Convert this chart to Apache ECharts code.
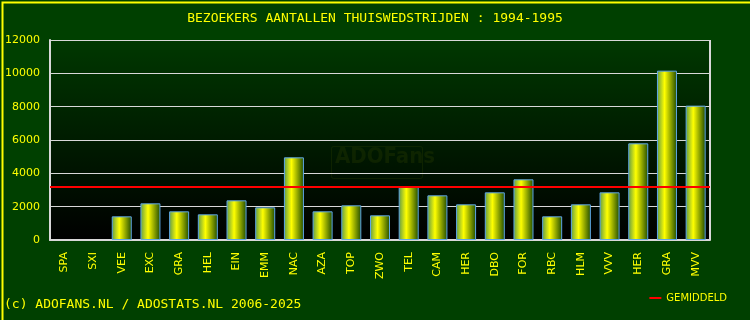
<!DOCTYPE html>
<html><head><meta charset="utf-8">
<script src="https://cdn.jsdelivr.net/npm/echarts@6/dist/echarts.min.js"></script>
<style>html,body{margin:0;padding:0;background:#004000;}#c{width:750px;height:320px;}</style>
</head><body><div id="c"></div>
<script>
const categories = ['SPA','SXI','VEE','EXC','GRA','HEL','EIN','EMM','NAC','AZA','TOP','ZWO','TEL','CAM','HER','DBO','FOR','RBC','HLM','VVV','HER','GRA','MVV'];
const visitors = [null,null,1420,2200,1720,1540,2380,1960,4960,1720,2080,1480,3220,2680,2140,2860,3640,1420,2140,2860,5800,10160,8060];
const average = 3200;
const yTicks = [0,2000,4000,6000,8000,10000,12000];

const chart = echarts.init(document.getElementById('c'));
const barGrad = new echarts.graphic.LinearGradient(0,0,1,0,[
  {offset:0,color:'#5f9a48'},{offset:0.38,color:'#ffff00'},{offset:1,color:'#1e4a00'}]);
chart.setOption({
  backgroundColor:'#004000',
  animation:false,
  title:{text:'BEZOEKERS AANTALLEN THUISWEDSTRIJDEN : 1994-1995',left:'center',top:7,
    textStyle:{color:'#ffff00',fontFamily:'DejaVu Sans Mono',fontWeight:'normal',fontSize:13}},
  legend:{data:['GEMIDDELD'],right:18,top:288,itemWidth:12,itemHeight:2,icon:'rect',
    textStyle:{color:'#ffff00',fontFamily:'DejaVu Sans',fontSize:10}},
  grid:{left:50,right:40,top:40,bottom:80,show:true,borderWidth:0,
    backgroundColor:new echarts.graphic.LinearGradient(0,0,0,1,[{offset:0,color:'#003800'},{offset:1,color:'#000000'}])},
  xAxis:{type:'category',data:categories,
    axisLine:{lineStyle:{color:'#d8d8d8',width:2}},axisTick:{show:false},
    axisLabel:{rotate:90,color:'#ffff00',fontFamily:'DejaVu Sans',fontSize:11,margin:12}},
  yAxis:{type:'value',min:yTicks[0],max:yTicks[yTicks.length-1],interval:2000,
    axisLine:{show:true,lineStyle:{color:'#d8d8d8',width:2}},axisTick:{show:false},
    splitLine:{lineStyle:{color:'#d8d8d8',width:1}},
    axisLabel:{color:'#ffff00',fontFamily:'DejaVu Sans',fontSize:11,margin:10,formatter:v=>String(v)}},
  graphic:[
    {type:'rect',left:0,top:0,shape:{width:749,height:319},style:{fill:'none',stroke:'#ffff00',lineWidth:2}},
    {type:'line',shape:{x1:710,y1:40,x2:710,y2:240},style:{stroke:'#d8d8d8',lineWidth:2},z:5},
    {type:'rect',left:329,top:144,shape:{width:91,height:32,r:2},style:{fill:'none',stroke:'rgba(40,60,0,0.35)',lineWidth:1},z:0},
    {type:'text',left:335,top:146,style:{text:'ADOFans',fill:'rgba(40,60,0,0.35)',font:'bold 22px "DejaVu Sans Condensed"'},z:0},
    {type:'text',left:4,top:298,style:{text:'(c) ADOFANS.NL / ADOSTATS.NL 2006-2025',fill:'#ffff00',font:'13px "DejaVu Sans Mono"'}}
  ],
  series:[
    {type:'bar',data:visitors,barWidth:20,itemStyle:{color:barGrad,borderColor:'#5fa8e8',borderWidth:1},z:3},
    {name:'GEMIDDELD',type:'line',data:[],itemStyle:{color:'#ff0000'},lineStyle:{color:'#ff0000'},
     markLine:{symbol:'none',silent:true,label:{show:false},lineStyle:{color:'#ff0000',width:2,type:'solid'},data:[{yAxis:average}]},z:4}
  ]
});
</script></body></html>
